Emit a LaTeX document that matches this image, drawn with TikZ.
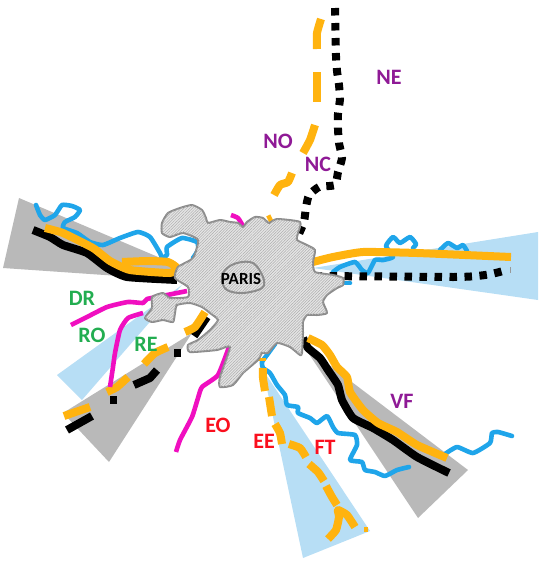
\documentclass[tikz,border=0pt]{standalone}
\usepackage{fontspec}
\setmainfont{Carlito}
\usetikzlibrary{patterns.meta}
\definecolor{sgray}{HTML}{B9B9B9}
\definecolor{sblue}{HTML}{B7DEF5}
\definecolor{smix}{HTML}{7F9DB0}
\definecolor{orgl}{HTML}{FFB30F}
\definecolor{rivr}{HTML}{1FA5EA}
\definecolor{magl}{HTML}{F00FC0}
\definecolor{purp}{HTML}{8F1A96}
\definecolor{gren}{HTML}{22AD50}
\definecolor{redl}{HTML}{FA0F1E}
\tikzset{
 orgline/.style={draw=orgl,line width=8pt,line join=round},
 blkline/.style={draw=black,line width=8pt,line join=round},
 dotline/.style={draw=black,line width=8pt,dash pattern=on 7.5pt off 7.5pt},
 rivline/.style={draw=rivr,line width=4.6pt,line cap=round,line join=round},
 magline/.style={draw=magl,line width=4.6pt,line join=round},
 lab/.style={font=\fontsize{22}{22}\selectfont\bfseries,inner sep=0pt},
 citypart/.style={draw=black!45,line width=2pt,line join=round,
   fill=black!10,postaction={pattern={Lines[angle=45,distance=2pt,line width=.5pt]},pattern color=black!32}}
}
\newcommand{\sm}[2][]{\draw[#1] plot[smooth,tension=0.3] coordinates {#2};}
\begin{document}
\begin{tikzpicture}[x=1pt,y=-1pt]
\useasboundingbox (0,0) rectangle (541,562);
% sectors
\fill[sblue] (57,375) -- (182,285) -- (82,400) -- cycle;
\fill[sblue] (538,232) -- (313,268) -- (538,300) -- cycle;
\fill[sblue] (263,370) -- (370,531) -- (303,558) -- cycle;
\fill[sgray] (19,198) -- (177,265) -- (177,280) -- (3,268) -- cycle;
\fill[sgray] (192,333) -- (63,413) -- (109,462) -- cycle;
\fill[sgray] (303,345) -- (468,470) -- (418,518) -- cycle;
\begin{scope}
\clip (192,333) -- (63,413) -- (109,462) -- cycle;
\fill[smix] (57,375) -- (182,285) -- (82,400) -- cycle;
\end{scope}
% rivers
\sm[rivline]{(36,205)(40,215)(45,220)(55,215)(62,205)(72,206)(80,210)(75,217)(65,222)(63,228)(77,233)(90,242)(103,245)(120,238)(138,232)(150,237)(160,253)(162,258)}
\sm[rivline]{(162,258)(167,255)(167,247)(182,238)(197,242)(198,250)(193,258)}
\sm[rivline]{(333,272)(340,267)(355,262)(362,270)(368,273)(375,260)(383,260)(393,257)(386,246)(393,237)(400,243)(410,237)(416,244)(413,248)}
\sm[rivline]{(440,250)(448,243)(457,248)(463,245)(467,251)}
\draw[rivline] (345,283) -- (350,283);
\sm[rivline]{(275,344)(267,355)(262,362)(263,368)(270,373)(277,385)(285,395)(287,405)(298,407)(298,413)(310,418)(317,423)(327,416)(333,427)(338,433)(355,435)(357,445)(350,460)(362,462)(365,470)(375,472)(385,476)(397,470)(409,467)}
\sm[rivline]{(445,454)(457,447)(473,453)(490,443)(492,433)(498,432)(512,436)}
% black lines
\sm[blkline]{(33,230)(50,237)(63,245)(87,253)(107,268)(127,277)(177,280)}
\sm[blkline]{(303,338)(308,348)(320,358)(328,370)(338,385)(342,400)(353,418)(373,428)(393,440)(417,457)(449,473)}
\draw[blkline] (67,430) -- (92,416);
\draw[blkline] (110,400) -- (117,400);
\draw[blkline] (134,385) -- (150,378) -- (157,370);
\draw[blkline] (174,353) -- (181,353);
\draw[blkline] (194,336) -- (207,317);
\draw[dotline] (314.5,276) -- (453,277) .. controls (475,277) and (490,275) .. (503,271);
\draw[draw=black!40,line width=.7pt] (510,267) -- (510,273);
\sm[dotline]{(335,8)(336,56)(337,71)(339,85)(340,99)(338,114)(338,129)(339,143)(342,158)(338,172)(335,185)(319,187)(309,195)(306,207)(304,222)(298,236)}
% orange lines
\sm[orgline]{(45,228)(63,233)(93,248)(110,261)(130,270)(170,273)(177,268)(168,262)(147,261)(122,262)}
\draw[orgline] (64,416) -- (90,407);
\sm[orgline]{(107,392)(117,387)(128,377)}
\sm[orgline]{(144,364)(155,353)(168,347)}
\sm[orgline]{(185,332)(195,327)(205,312)}
\sm[orgline]{(313,262)(333,257)(363,252)(417,253)(511,257)}
\sm[orgline]{(321,19)(317,33)(317,49)}
\draw[orgline] (317,72) -- (317,102);
\sm[orgline]{(315,125)(310,140)(303,153)}
\sm[orgline]{(292,173)(288,182)(280,185)(274,195)}
\draw[orgline] (268,220) -- (272,218);
\draw[orgline] (262,358) -- (262,361);
\sm[orgline]{(263,368)(263,378)(265,391)}
\draw[orgline] (269,397) -- (272,416);
\sm[orgline]{(275,424)(280,433)(282,444)}
\sm[orgline]{(289,444)(300,448)(306,457)}
\sm[orgline]{(309,464)(318,472)(324,481)}
\sm[orgline]{(326,486)(332,497)(337,505)}
\sm[orgline]{(328,539)(336,530)(339,517)(338,510)(347,515)(355,527)}
\draw[draw=orgl,line width=5pt] (364,529) -- (368,529);
\sm[orgline]{(308,338)(322,345)(330,355)(337,367)(347,377)(350,392)(363,410)(378,423)(397,432)(417,445)(447,458)}
% magenta lines
\sm[magline]{(71,325)(87,317)(107,307)(128,302)(143,303)(147,299)(167,295)(187,291)}
\sm[magline]{(143,313)(128,318)(120,330)(115,353)(113,367)(110,387)}
\sm[magline]{(176,452)(180,440)(192,417)(198,398)(202,387)(218,375)(229,347)}
\sm[magline]{(231,215)(238,218)(243,226)}
% city
\path[citypart] plot[smooth cycle,tension=0.35] coordinates {(162,233)(162,223)(168,213)(180,208)(192,205)(202,210)(206,218)(208,223)(220,220)(230,222)(238,223)(243,227)(247,222)(255,217)(263,218)(269,223)(277,219)(300,222)(298,233)(297,240)(307,245)(315,250)(313,262)(315,272)(333,275)(343,278)(343,285)(337,288)(327,295)(323,302)(327,313)(317,315)(307,315)(303,322)(303,333)(302,353)(300,355)(290,347)(277,343)(268,353)(262,353)(258,360)(243,373)(233,385)(220,387)(220,377)(230,347)(217,350)(190,352)(188,345)(198,340)(210,330)(218,320)(210,313)(202,307)(190,303)(177,305)(175,313)(173,322)(163,320)(152,322)(145,318)(152,308)(152,297)(163,293)(170,298)(188,297)(188,287)(175,278)(178,267)(193,258)(198,240)(183,233)(170,237)};
\draw[draw=black!45,line width=2pt] plot[smooth cycle,tension=0.6] coordinates {(225,270)(237,263)(253,263)(263,277)(262,288)(243,293)(227,290)(222,280)};
% labels
\node[lab,text=black,font=\fontsize{17}{17}\selectfont\bfseries] (paris) at (241,279) {PARIS};
\node[lab,text=purp] (ne) at (389,77) {NE};
\node[lab,text=purp] (no) at (278,141) {NO};
\node[lab,text=purp] (nc) at (318,164) {NC};
\node[lab,text=purp] (vf) at (402,401) {VF};
\node[lab,text=gren] (dr) at (82,298) {DR};
\node[lab,text=gren] (ro) at (92,335) {RO};
\node[lab,text=gren] (re) at (146,344) {RE};
\node[lab,text=redl] (eo) at (218,425) {EO};
\node[lab,text=redl] (ee) at (264,441) {EE};
\node[lab,text=redl] (ft) at (325,447) {FT};
\end{tikzpicture}
\end{document}
